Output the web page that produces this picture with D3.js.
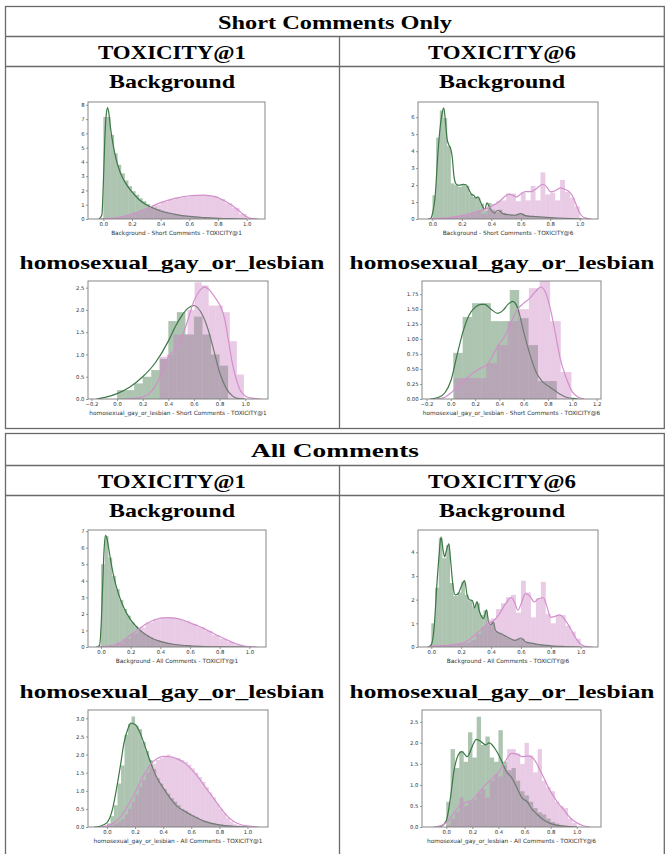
<!DOCTYPE html>
<html>
<head>
<meta charset="utf-8">
<script src="https://cdn.jsdelivr.net/npm/d3@7/dist/d3.min.js"></script>
<style>
  body { margin: 0; background: #fff; }
  svg { display: block; }
</style>
</head>
<body>
<svg id="fig" width="665" height="854"></svg>
<script>
// ---------------- labels ----------------
const sectionTitles = ["Short Comments Only", "All Comments"];
const commentSets = ["Short Comments", "All Comments"];
const metricTitles = ["TOXICITY@1", "TOXICITY@6"];
const groupTitles = ["Background", "homosexual_gay_or_lesbian"];

// ---------------- axis limits and ticks ----------------
const xLims = [
  [-0.107, 1.128], [-0.098, 1.124], [-0.227, 1.178], [-0.237, 1.236],
  [-0.088, 1.112], [-0.089, 1.116], [-0.135, 1.146], [-0.186, 1.186]
];
const yLims = [
  [0, 8.2], [0, 6.9], [0, 2.65], [0, 1.97],
  [0, 7.07], [0, 4.94], [0, 3.23], [0, 2.78]
];
const xTicks = [
  [0, 0.2, 0.4, 0.6, 0.8, 1.0],
  [0, 0.2, 0.4, 0.6, 0.8, 1.0],
  [-0.2, 0, 0.2, 0.4, 0.6, 0.8, 1.0],
  [-0.2, 0, 0.2, 0.4, 0.6, 0.8, 1.0, 1.2],
  [0, 0.2, 0.4, 0.6, 0.8, 1.0],
  [0, 0.2, 0.4, 0.6, 0.8, 1.0],
  [0, 0.2, 0.4, 0.6, 0.8, 1.0],
  [0, 0.2, 0.4, 0.6, 0.8, 1.0]
];
const yTicks = [
  [0, 1, 2, 3, 4, 5, 6, 7, 8],
  [0, 1, 2, 3, 4, 5, 6],
  [0, 0.5, 1.0, 1.5, 2.0, 2.5],
  [0, 0.25, 0.5, 0.75, 1.0, 1.25, 1.5, 1.75],
  [0, 1, 2, 3, 4, 5, 6, 7],
  [0, 1, 2, 3, 4],
  [0, 0.5, 1.0, 1.5, 2.0, 2.5, 3.0],
  [0, 0.5, 1.0, 1.5, 2.0, 2.5]
];
const yDecimals = [0, 0, 1, 2, 0, 0, 1, 1];

// ---------------- Short comments, TOXICITY@1, Background ----------------
const shortT1BgGreenHist = { x0: 0, step: 0.025, h: [
  7.15, 7.15, 5.9, 4.6, 3.8, 3.2, 2.7, 2.3, 1.95, 1.7, 1.45, 1.25, 1.05, 0.92, 0.8, 0.7, 0.6, 0.52, 0.45, 0.39,
  0.33, 0.28, 0.24, 0.2, 0.17, 0.15, 0.13, 0.11, 0.09, 0.08, 0.06, 0.05, 0.04, 0.04, 0.03, 0.02, 0.02, 0.01, 0.01, 0.0] };
const shortT1BgPinkHist = { x0: 0, step: 0.05, h: [
  0.03, 0.07, 0.13, 0.25, 0.42, 0.6, 0.8, 1.0, 1.2, 1.36, 1.5, 1.58, 1.64, 1.67, 1.66, 1.58, 1.4, 1.1, 0.78, 0.35] };
const shortT1BgGreenKde = [[-0.03,0],[-0.01,0.3],[0.0,2.5],[0.01,5.5],[0.02,7.3],[0.03,7.8],[0.04,7.3],[0.05,6.4],[0.06,5.7],[0.08,4.6],[0.1,3.8],[0.12,3.2],[0.15,2.6],[0.18,2.15],[0.2,1.9],[0.25,1.35],[0.3,1.0],[0.35,0.75],[0.4,0.56],[0.5,0.33],[0.6,0.18],[0.7,0.1],[0.8,0.05],[0.9,0.02],[1.0,0.0]];
const shortT1BgPinkKde = [[-0.02,0],[0.0,0.02],[0.1,0.1],[0.2,0.35],[0.3,0.72],[0.4,1.15],[0.5,1.45],[0.6,1.63],[0.7,1.68],[0.75,1.62],[0.8,1.5],[0.85,1.25],[0.9,0.95],[0.95,0.55],[1.0,0.15],[1.04,0.02],[1.08,0]];

// ---------------- Short comments, TOXICITY@6, Background ----------------
const shortT6BgGreenHist = { x0: 0, step: 0.025, h: [
  1.4, 4.8, 6.4, 5.95, 4.3, 2.1, 2.0, 1.9, 2.05, 1.95, 1.5, 1.3, 1.25, 0.9, 0.5, 0.95, 0.55, 0.4, 0.55, 0.35,
  0.3, 0.25, 0.22, 0.3, 0.3, 0.18, 0.15, 0.13, 0.12, 0.1, 0.1, 0.08, 0.07, 0.06, 0.05, 0.04, 0.03, 0.02, 0.02, 0.01] };
const shortT6BgPinkHist = { x0: 0, step: 1 / 30, h: [
  0.02, 0.03, 0.06, 0.08, 0.12, 0.17, 0.22, 0.28, 0.35, 0.5, 0.3, 0.7, 0.9, 1.05, 1.1,
  1.5, 1.5, 1.05, 1.55, 1.1, 1.95, 1.1, 2.75, 1.45, 1.55, 1.1, 2.3, 1.6, 1.25, 0.75] };
const shortT6BgGreenKde = [[-0.03,0],[-0.01,0.05],[0.0,0.3],[0.02,1.5],[0.035,3.6],[0.05,5.2],[0.065,6.2],[0.077,6.55],[0.09,5.6],[0.1,4.7],[0.11,4.4],[0.125,4.1],[0.135,3.6],[0.145,2.6],[0.155,2.15],[0.17,2.0],[0.19,2.0],[0.21,2.05],[0.23,2.0],[0.25,1.7],[0.265,1.45],[0.28,1.4],[0.295,1.25],[0.31,1.3],[0.325,1.05],[0.34,0.75],[0.355,0.55],[0.37,0.95],[0.385,0.75],[0.4,0.5],[0.42,0.35],[0.44,0.5],[0.46,0.45],[0.48,0.3],[0.52,0.25],[0.56,0.22],[0.6,0.32],[0.63,0.2],[0.68,0.15],[0.75,0.11],[0.85,0.06],[0.95,0.02],[1.02,0]];
const shortT6BgPinkKde = [[-0.02,0],[0.0,0.02],[0.05,0.04],[0.1,0.07],[0.15,0.12],[0.2,0.2],[0.25,0.3],[0.3,0.42],[0.35,0.55],[0.4,0.75],[0.45,1.0],[0.5,1.38],[0.52,1.47],[0.55,1.38],[0.57,1.3],[0.6,1.48],[0.63,1.62],[0.67,1.62],[0.7,1.75],[0.75,2.05],[0.78,1.85],[0.8,1.6],[0.83,1.65],[0.87,1.83],[0.9,1.75],[0.93,1.6],[0.96,1.2],[0.98,0.75],[1.0,0.35],[1.03,0.08],[1.08,0]];

// ---------------- Short comments, TOXICITY@1, homosexual_gay_or_lesbian ----------------
const shortT1IdGreenHist = { x0: 0, step: 1 / 15, h: [
  0.2, 0.2, 0.35, 0.5, 0.65, 0.9, 1.75, 1.95, 1.45, 1.85, 1.45, 1.0, 0.75] };
const shortT1IdPinkHist = { x0: 0.33, step: 0.055, h: [
  0.95, 1.0, 1.45, 1.45, 2.0, 2.62, 2.55, 2.1, 2.1, 1.95, 1.3, 0.55] };
const shortT1IdGreenKde = [[-0.16,0],[-0.1,0.03],[0.0,0.12],[0.1,0.27],[0.2,0.5],[0.3,0.82],[0.4,1.3],[0.45,1.6],[0.5,1.85],[0.55,2.03],[0.6,2.1],[0.65,1.97],[0.7,1.65],[0.75,1.15],[0.8,0.6],[0.85,0.25],[0.9,0.07],[0.95,0.01],[1.0,0]];
const shortT1IdPinkKde = [[0.05,0],[0.15,0.02],[0.25,0.12],[0.3,0.3],[0.35,0.6],[0.4,0.95],[0.45,1.1],[0.5,1.35],[0.55,1.75],[0.6,2.2],[0.65,2.45],[0.68,2.52],[0.72,2.45],[0.76,2.3],[0.8,2.12],[0.84,1.8],[0.87,1.3],[0.9,0.8],[0.93,0.45],[0.96,0.2],[1.0,0.07],[1.05,0.02],[1.12,0]];

// ---------------- Short comments, TOXICITY@6, homosexual_gay_or_lesbian ----------------
const shortT6IdGreenHist = { x0: 0.02, step: 0.0775, h: [
  0.77, 1.37, 1.6, 1.6, 1.3, 1.3, 1.82, 1.35, 0.9, 0.3, 0.3] };
const shortT6IdPinkHist = { x0: 0.03, step: 0.0875, h: [
  0.35, 0.35, 0.35, 0.6, 0.9, 1.3, 1.5, 1.85, 1.97, 1.3, 0.45] };
const shortT6IdGreenKde = [[-0.17,0],[-0.1,0.03],[-0.05,0.1],[0.0,0.3],[0.05,0.72],[0.1,1.12],[0.15,1.4],[0.2,1.53],[0.25,1.58],[0.28,1.58],[0.33,1.5],[0.385,1.43],[0.43,1.48],[0.47,1.58],[0.51,1.63],[0.55,1.52],[0.6,1.12],[0.65,0.75],[0.7,0.46],[0.75,0.3],[0.8,0.22],[0.85,0.15],[0.9,0.08],[0.95,0.03],[1.0,0.01],[1.05,0]];
const shortT6IdPinkKde = [[-0.12,0],[-0.05,0.03],[0.0,0.1],[0.05,0.2],[0.1,0.29],[0.15,0.38],[0.2,0.46],[0.25,0.52],[0.3,0.57],[0.35,0.75],[0.4,0.92],[0.45,1.07],[0.5,1.3],[0.55,1.5],[0.6,1.6],[0.65,1.68],[0.7,1.8],[0.74,1.87],[0.78,1.78],[0.82,1.5],[0.86,1.1],[0.9,0.68],[0.95,0.35],[1.0,0.12],[1.05,0.03],[1.1,0]];

// ---------------- All comments, TOXICITY@1, Background ----------------
const allT1BgGreenHist = { x0: 0, step: 0.025, h: [
  5.0, 6.7, 5.4, 4.3, 3.5, 2.85, 2.3, 1.9, 1.5, 1.25, 1.0, 0.85, 0.7, 0.58, 0.48, 0.4, 0.33, 0.27, 0.22, 0.18,
  0.15, 0.12, 0.1, 0.08, 0.07, 0.06, 0.05, 0.04, 0.03, 0.03, 0.02, 0.02, 0.01, 0.01, 0.01, 0.0, 0.0, 0.0, 0.0, 0.0] };
const allT1BgPinkHist = { x0: 0, step: 0.05, h: [
  0.02, 0.1, 0.25, 0.5, 0.82, 1.18, 1.48, 1.68, 1.77, 1.77, 1.7, 1.58, 1.4, 1.2, 0.98, 0.72, 0.5, 0.3, 0.14, 0.04] };
const allT1BgGreenKde = [[-0.03,0],[-0.01,0.1],[0.0,1.2],[0.01,3.5],[0.02,5.8],[0.03,6.75],[0.04,6.55],[0.05,6.05],[0.06,5.5],[0.08,4.5],[0.1,3.75],[0.12,3.15],[0.15,2.45],[0.2,1.64],[0.25,1.12],[0.3,0.75],[0.35,0.5],[0.4,0.34],[0.5,0.15],[0.6,0.07],[0.7,0.03],[0.8,0.01],[1.0,0]];
const allT1BgPinkKde = [[-0.03,0],[0.0,0.02],[0.05,0.06],[0.1,0.15],[0.15,0.38],[0.2,0.72],[0.25,1.05],[0.3,1.37],[0.35,1.6],[0.4,1.74],[0.45,1.78],[0.5,1.74],[0.55,1.63],[0.6,1.46],[0.65,1.28],[0.7,1.08],[0.75,0.86],[0.8,0.63],[0.85,0.42],[0.9,0.23],[0.95,0.09],[1.0,0.02],[1.05,0]];

// ---------------- All comments, TOXICITY@6, Background ----------------
const allT6BgGreenHist = { x0: 0, step: 0.025, h: [
  1.0, 2.5, 4.6, 3.75, 4.3, 2.7, 2.15, 2.3, 2.75, 2.2, 1.95, 1.7, 1.85, 1.35, 1.55, 0.95, 1.05, 0.65, 0.6, 0.5,
  0.4, 0.32, 0.3, 0.35, 0.35, 0.2, 0.17, 0.15, 0.12, 0.1, 0.08, 0.06, 0.05, 0.04, 0.03, 0.03, 0.02, 0.01, 0.01, 0.0] };
const allT6BgPinkHist = { x0: 0, step: 1 / 30, h: [
  0.02, 0.04, 0.05, 0.08, 0.1, 0.12, 0.15, 0.2, 0.3, 0.55, 0.85, 1.15, 1.2, 1.6, 1.85,
  2.1, 2.2, 1.45, 2.8, 2.3, 1.25, 2.05, 2.75, 1.4, 1.0, 1.35, 1.35, 0.9, 0.65, 0.35] };
const allT6BgGreenKde = [[-0.02,0],[0.0,0.1],[0.02,0.9],[0.035,2.4],[0.05,3.7],[0.065,4.65],[0.08,4.05],[0.09,3.8],[0.1,4.05],[0.118,4.35],[0.13,3.6],[0.145,2.6],[0.16,2.2],[0.18,2.25],[0.2,2.55],[0.223,2.8],[0.24,2.2],[0.255,2.0],[0.275,1.96],[0.29,1.65],[0.306,1.92],[0.32,1.55],[0.335,1.3],[0.35,1.2],[0.37,1.57],[0.385,1.0],[0.4,0.95],[0.415,1.05],[0.43,0.7],[0.45,0.6],[0.47,0.55],[0.5,0.45],[0.53,0.35],[0.56,0.28],[0.6,0.38],[0.63,0.22],[0.67,0.16],[0.72,0.1],[0.8,0.05],[0.9,0.02],[1.0,0.0]];
const allT6BgPinkKde = [[-0.03,0],[0.0,0.02],[0.1,0.07],[0.2,0.15],[0.25,0.3],[0.3,0.55],[0.35,0.82],[0.38,1.0],[0.41,1.08],[0.45,1.35],[0.5,1.85],[0.535,2.09],[0.56,1.85],[0.58,1.55],[0.6,1.8],[0.63,2.25],[0.66,2.15],[0.69,1.9],[0.72,2.05],[0.75,2.08],[0.77,1.8],[0.8,1.25],[0.83,1.3],[0.86,1.36],[0.9,1.1],[0.93,0.8],[0.96,0.45],[1.0,0.12],[1.04,0.02],[1.08,0]];

// ---------------- All comments, TOXICITY@1, homosexual_gay_or_lesbian ----------------
const allT1IdGreenHist = { x0: 0, step: 0.025, h: [
  0.1, 0.3, 0.6, 1.2, 1.7, 2.55, 2.85, 3.05, 2.8, 2.7, 2.35, 2.1, 1.85, 1.6, 1.35, 1.2, 1.05, 0.92, 0.8, 0.7,
  0.6, 0.5, 0.45, 0.38, 0.32, 0.28, 0.22, 0.18, 0.15, 0.12, 0.1, 0.08, 0.06, 0.05, 0.04, 0.03, 0.02, 0.01, 0.01, 0.0] };
const allT1IdPinkHist = { x0: 0, step: 0.025, h: [
  0.02, 0.05, 0.1, 0.15, 0.22, 0.35, 0.5, 0.7, 0.9, 1.1, 1.3, 1.5, 1.65, 1.75, 1.85, 1.9, 1.95, 2.0, 1.95, 1.9,
  1.9, 1.85, 1.8, 1.72, 1.62, 1.5, 1.38, 1.25, 1.1, 0.95, 0.82, 0.65, 0.5, 0.38, 0.25, 0.15, 0.08, 0.05, 0.03, 0.01] };
const allT1IdGreenKde = [[-0.09,0],[-0.05,0.02],[0.0,0.12],[0.04,0.5],[0.07,1.1],[0.1,1.8],[0.12,2.3],[0.15,2.72],[0.17,2.87],[0.2,2.83],[0.23,2.65],[0.26,2.35],[0.3,1.9],[0.35,1.4],[0.4,1.08],[0.45,0.8],[0.5,0.57],[0.55,0.44],[0.6,0.33],[0.7,0.15],[0.8,0.06],[0.9,0.02],[1.0,0]];
const allT1IdPinkKde = [[-0.05,0],[0.0,0.03],[0.05,0.12],[0.1,0.3],[0.15,0.6],[0.2,0.95],[0.25,1.35],[0.3,1.68],[0.35,1.87],[0.4,1.95],[0.45,1.94],[0.5,1.88],[0.55,1.77],[0.6,1.6],[0.65,1.37],[0.7,1.1],[0.75,0.84],[0.8,0.57],[0.85,0.33],[0.9,0.16],[0.95,0.07],[1.0,0.03],[1.08,0]];

// ---------------- All comments, TOXICITY@6, homosexual_gay_or_lesbian ----------------
const allT6IdGreenHist = { x0: 0, step: 1 / 30, h: [
  0.6, 1.85, 1.4, 1.8, 1.55, 2.25, 1.65, 2.62, 1.95, 2.15, 1.65, 1.55, 2.3, 1.55, 1.35,
  1.4, 1.1, 0.85, 0.75, 0.6, 0.45, 0.35, 0.3, 0.2, 0.12, 0.08, 0.05, 0.03, 0.02, 0.01] };
const allT6IdPinkHist = { x0: 0, step: 1 / 30, h: [
  0.05, 0.2, 0.35, 0.7, 0.5, 0.6, 0.65, 0.8, 0.9, 0.7, 1.1, 1.25, 1.2, 1.45, 1.85,
  1.85, 1.75, 1.5, 2.0, 1.7, 1.3, 1.85, 1.1, 0.95, 0.85, 0.6, 0.5, 0.45, 0.2, 0.1] };
const allT6IdGreenKde = [[-0.08,0],[-0.04,0.02],[0.0,0.15],[0.03,0.65],[0.06,1.35],[0.09,1.7],[0.12,1.79],[0.16,1.67],[0.2,1.92],[0.23,2.08],[0.27,2.02],[0.3,1.95],[0.33,2.0],[0.38,1.83],[0.42,1.6],[0.46,1.32],[0.5,1.18],[0.55,0.88],[0.58,0.69],[0.62,0.6],[0.66,0.41],[0.7,0.29],[0.75,0.16],[0.8,0.08],[0.85,0.04],[0.9,0.02],[1.0,0]];
const allT6IdPinkKde = [[-0.1,0],[-0.05,0.02],[0.0,0.1],[0.05,0.3],[0.1,0.49],[0.15,0.58],[0.2,0.65],[0.25,0.82],[0.3,1.0],[0.35,1.15],[0.4,1.3],[0.45,1.55],[0.5,1.75],[0.55,1.72],[0.58,1.67],[0.63,1.69],[0.67,1.62],[0.7,1.47],[0.75,1.15],[0.8,0.84],[0.85,0.6],[0.9,0.41],[0.95,0.22],[1.0,0.1],[1.05,0.03],[1.1,0]];

// ---------------- assemble panels (section, metric, group order) ----------------
const greenHists = [shortT1BgGreenHist, shortT6BgGreenHist, shortT1IdGreenHist, shortT6IdGreenHist,
                    allT1BgGreenHist, allT6BgGreenHist, allT1IdGreenHist, allT6IdGreenHist];
const pinkHists  = [shortT1BgPinkHist, shortT6BgPinkHist, shortT1IdPinkHist, shortT6IdPinkHist,
                    allT1BgPinkHist, allT6BgPinkHist, allT1IdPinkHist, allT6IdPinkHist];
const greenKdes  = [shortT1BgGreenKde, shortT6BgGreenKde, shortT1IdGreenKde, shortT6IdGreenKde,
                    allT1BgGreenKde, allT6BgGreenKde, allT1IdGreenKde, allT6IdGreenKde];
const pinkKdes   = [shortT1BgPinkKde, shortT6BgPinkKde, shortT1IdPinkKde, shortT6IdPinkKde,
                    allT1BgPinkKde, allT6BgPinkKde, allT1IdPinkKde, allT6IdPinkKde];

// ---------------- styling ----------------
const GREEN = { fill: "#2f6c39", line: "#3a7844" };
const PINK  = { fill: "#c77cc0", line: "#d38fcc" };
const RULE = "#6a6a6a";
const SERIF = "'Liberation Serif', 'Times New Roman', serif";
const SANS = "'DejaVu Sans', sans-serif";

// plot frames (left, top, right, bottom) in page pixels
const frames = [
  [88, 102, 265, 219], [418, 102, 598, 219],
  [88, 281, 268, 399], [422, 281, 601, 399],
  [88, 530, 266, 647], [418, 530, 598, 647],
  [88, 710, 268, 827], [422, 710, 601, 827]
];

const svg = d3.select("#fig");
const W = 665;

// ---------------- table frames ----------------
const tables = [
  { top: 6.5, r1: 36.5, r2: 66.5, bottom: 428.5, titleY: 28.5, metricY: 58.5, groupY: [87.5, 268.5] },
  { top: 433.5, r1: 465.5, r2: 495.5, bottom: 860, titleY: 457, metricY: 488, groupY: [516.5, 697.5] }
];
const titleWidths = [234, 168];
const colCenters = [172, 502];
const metricWidth = 148;
const groupWidths = [126, 305];

tables.forEach((t, ti) => {
  const g = svg.append("g");
  g.append("rect").attr("x", 5.5).attr("y", t.top).attr("width", W - 6.2).attr("height", t.bottom - t.top)
    .attr("fill", "none").attr("stroke", RULE).attr("stroke-width", 1.3);
  [t.r1, t.r2].forEach(yy => g.append("line").attr("x1", 5.5).attr("x2", W).attr("y1", yy).attr("y2", yy)
    .attr("stroke", RULE).attr("stroke-width", 1.3));
  g.append("line").attr("x1", 339.5).attr("x2", 339.5).attr("y1", t.r1).attr("y2", t.bottom)
    .attr("stroke", RULE).attr("stroke-width", 1.3);

  const heading = (txt, x, y, w) => g.append("text")
    .attr("x", x).attr("y", y).attr("text-anchor", "middle")
    .attr("font-family", SERIF).attr("font-weight", "bold").attr("font-size", 19)
    .attr("textLength", w).attr("lengthAdjust", "spacingAndGlyphs")
    .attr("fill", "#000").text(txt);

  heading(sectionTitles[ti], 335, t.titleY, titleWidths[ti]);
  metricTitles.forEach((m, ci) => {
    heading(m, colCenters[ci], t.metricY, metricWidth);
    groupTitles.forEach((gName, gi) => heading(gName, colCenters[ci], t.groupY[gi], groupWidths[gi]));
  });
});

// ---------------- distribution panels ----------------
const fmtX = d => (d < 0 ? "\u2212" : "") + Math.abs(d).toFixed(1);

frames.forEach((f, i) => {
  const [l, tp, r, b] = f;
  const si = Math.floor(i / 4);          // section
  const gi = Math.floor((i % 4) / 2);    // group
  const ci = i % 2;                      // metric
  const x = d3.scaleLinear().domain(xLims[i]).range([l, r]);
  const y = d3.scaleLinear().domain(yLims[i]).range([b, tp]);
  const g = svg.append("g");

  const clipId = "clip" + i;
  g.append("clipPath").attr("id", clipId).append("rect")
    .attr("x", l).attr("y", tp).attr("width", r - l).attr("height", b - tp);
  const plot = g.append("g").attr("clip-path", `url(#${clipId})`);

  const line = d3.line().x(d => x(d[0])).y(d => y(d[1])).curve(d3.curveMonotoneX);

  const drawSeries = (hist, kde, col) => {
    const bars = hist.h.map((v, k) => ({ a: hist.x0 + k * hist.step, b: hist.x0 + (k + 1) * hist.step, v }));
    plot.append("g").selectAll("rect").data(bars.filter(d => d.v > 0)).join("rect")
      .attr("x", d => x(d.a)).attr("width", d => x(d.b) - x(d.a))
      .attr("y", d => y(d.v)).attr("height", d => y(0) - y(d.v))
      .attr("fill", col.fill).attr("fill-opacity", 0.4);
    plot.append("path").datum(kde).attr("d", line)
      .attr("fill", "none").attr("stroke", col.line).attr("stroke-width", 1.2);
  };
  drawSeries(greenHists[i], greenKdes[i], GREEN);
  drawSeries(pinkHists[i], pinkKdes[i], PINK);

  // axes
  const xAxis = d3.axisBottom(x).tickValues(xTicks[i]).tickSize(2).tickPadding(1.5).tickFormat(fmtX);
  const yAxis = d3.axisLeft(y).tickValues(yTicks[i]).tickSize(2).tickPadding(1.5)
    .tickFormat(d => d.toFixed(yDecimals[i]));
  const gx = g.append("g").attr("transform", `translate(0,${b})`).call(xAxis);
  const gy = g.append("g").attr("transform", `translate(${l},0)`).call(yAxis);
  [gx, gy].forEach(ax => {
    ax.select(".domain").remove();
    ax.selectAll(".tick line").attr("stroke", "#555").attr("stroke-width", 0.6);
    ax.selectAll(".tick text").attr("font-family", SANS).attr("font-size", 5.3).attr("fill", "#333");
  });

  g.append("rect").attr("x", l).attr("y", tp).attr("width", r - l).attr("height", b - tp)
    .attr("fill", "none").attr("stroke", "#7a7a7a").attr("stroke-width", 0.9);

  g.append("text").attr("x", (l + r) / 2).attr("y", b + 15.5).attr("text-anchor", "middle")
    .attr("font-family", SANS).attr("font-size", 5.8).attr("fill", "#333")
    .text(`${groupTitles[gi]} - ${commentSets[si]} - ${metricTitles[ci]}`);
});
</script>
</body>
</html>
